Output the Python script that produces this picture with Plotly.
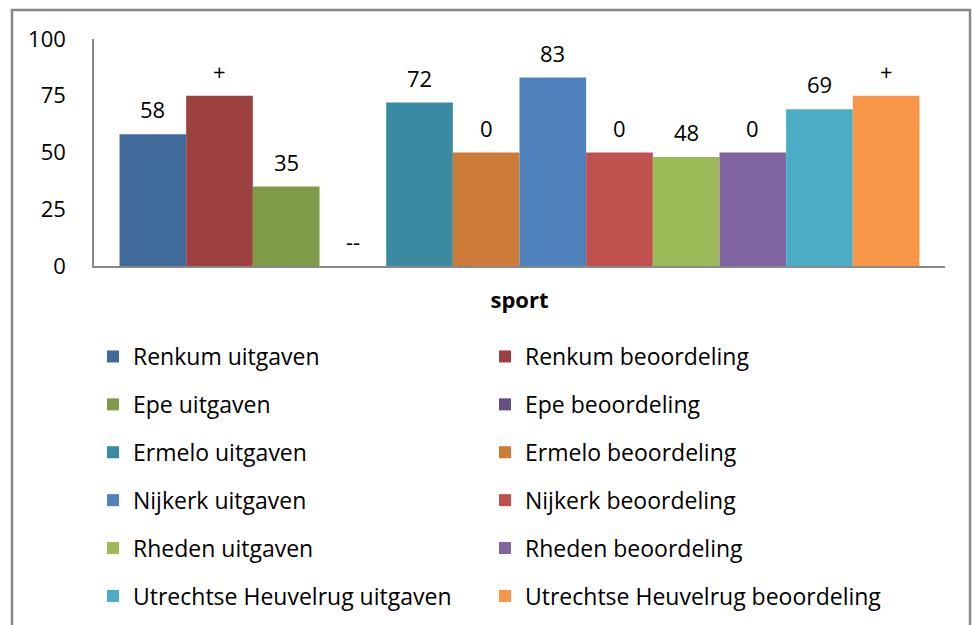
import plotly.graph_objects as go

category = ["sport"]
series_names = [
    "Renkum uitgaven", "Renkum beoordeling",
    "Epe uitgaven", "Epe beoordeling",
    "Ermelo uitgaven", "Ermelo beoordeling",
    "Nijkerk uitgaven", "Nijkerk beoordeling",
    "Rheden uitgaven", "Rheden beoordeling",
    "Utrechtse Heuvelrug uitgaven", "Utrechtse Heuvelrug beoordeling",
]
series_values = [58, 75, 35, 0, 72, 50, 83, 50, 48, 50, 69, 75]
series_labels = ["58", "+", "35", "--", "72", "0", "83", "0", "48", "0", "69", "+"]
series_colors = [
    "#3F6A9A", "#9C4040", "#809B48", "#664F84",
    "#3A8BA1", "#CC7B38", "#4F81BD", "#C0504D",
    "#9BBB59", "#8064A2", "#4BACC6", "#F79646",
]
y_ticks = [0, 25, 50, 75, 100]

FONT = "Open Sans"
W, H = 972, 625
bargap = 0.06
n = len(series_names)

fig = go.Figure()
for i, (name, val, col) in enumerate(zip(series_names, series_values, series_colors)):
    fig.add_trace(go.Bar(
        x=category, y=[val], name=name,
        marker=dict(color=col, line=dict(width=0)),
        legend="legend" if i % 2 == 0 else "legend2",
        legendgroup=name,
        hoverinfo="name+y",
    ))

# data labels above each bar (category axis coordinate of each grouped bar)
width = (1 - bargap) / n
for i, (val, lab) in enumerate(zip(series_values, series_labels)):
    xc = -0.5 + bargap / 2 + (i + 0.5) * width
    fig.add_annotation(
        x=xc, y=val, xref="x", yref="y", text=lab, showarrow=False,
        yanchor="middle", yshift=25,
        font=dict(family=FONT, size=22, color="#000000"),
    )

fig.add_shape(type="rect", xref="paper", yref="paper",
              x0=12 / W, x1=970 / W, y0=-0.05, y1=1 - 10 / H,
              line=dict(color="#878787", width=2.5), fillcolor="rgba(0,0,0,0)")

legend_common = dict(
    font=dict(family=FONT, size=23, color="#000000"),
    orientation="v", tracegroupgap=15, bgcolor="rgba(0,0,0,0)",
    xanchor="left", yanchor="top", borderwidth=0,
)

fig.update_layout(
    template="none",
    width=W, height=H,
    margin=dict(l=0, r=0, t=0, b=0, pad=0, autoexpand=False),
    paper_bgcolor="white", plot_bgcolor="white",
    barmode="group", bargap=bargap, bargroupgap=0,
    font=dict(family=FONT, size=22, color="#000000"),
    xaxis=dict(
        domain=[94 / W, 945 / W], showline=True, linecolor="#888888", linewidth=1.5,
        showgrid=False, zeroline=False, ticks="", automargin=False,
        tickfont=dict(family=FONT, size=22, color="#000000", weight="bold"),
        ticklabelstandoff=14,
    ),
    yaxis=dict(
        domain=[1 - 266 / H, 1 - 39 / H], range=[0, 100], tickvals=y_ticks,
        showline=True, linecolor="#888888", linewidth=1.5,
        showgrid=False, zeroline=False, ticks="", automargin=False,
        tickfont=dict(family=FONT, size=22, color="#000000"),
        ticklabelstandoff=22,
    ),
    legend=dict(x=(133 - 40) / W, y=1 - 335 / H, **legend_common),
    legend2=dict(x=(525 - 40) / W, y=1 - 335 / H, **legend_common),
    showlegend=True,
)

fig.write_html("out.html", config={"displayModeBar": False},
               post_script="document.body.style.margin='0';")
